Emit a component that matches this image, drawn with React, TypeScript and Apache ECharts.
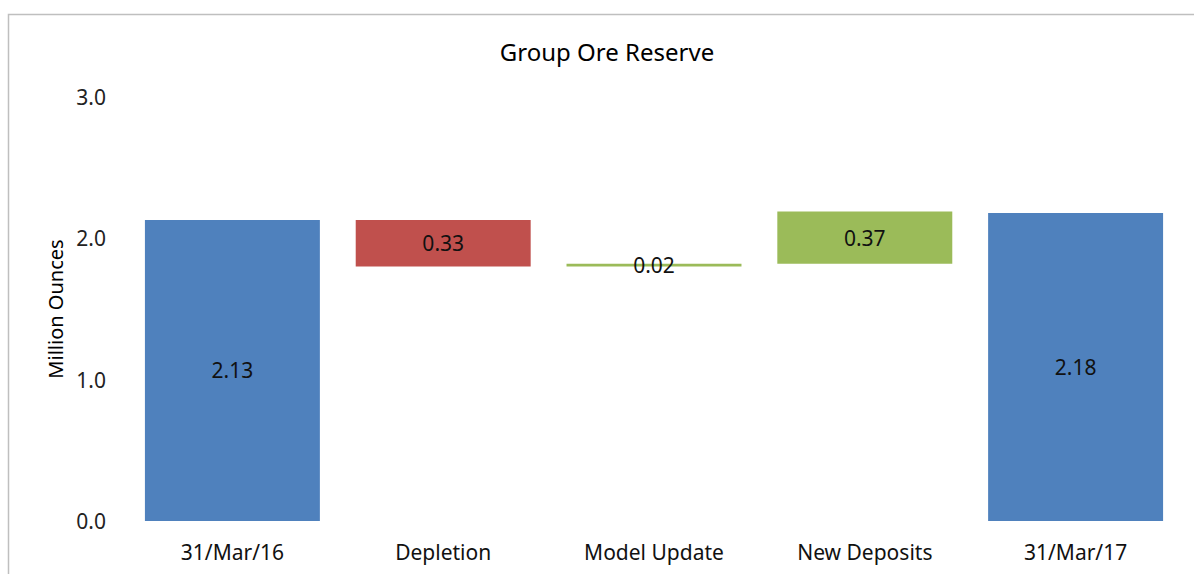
import React, { useEffect, useRef } from "react";
import * as echarts from "echarts";

const categories = ["31/Mar/16", "Depletion", "Model Update", "New Deposits", "31/Mar/17"];
const values = [2.13, -0.33, 0.02, 0.37, 2.18];
const kinds = ["total", "delta", "delta", "delta", "total"];
const yTicks = [0, 1, 2, 3];

const BLUE = "#4F81BD";
const RED = "#C0504D";
const GREEN = "#9BBB59";

export default function App() {
  const ref = useRef<HTMLDivElement>(null);
  useEffect(() => {
    if (!ref.current) return;
    const chart = echarts.init(ref.current, undefined, { renderer: "svg" });
    let running = 0;
    const base: number[] = [];
    const height: number[] = [];
    const colors: string[] = [];
    values.forEach((v, i) => {
      if (kinds[i] === "total") {
        base.push(0);
        height.push(v);
        running = v;
        colors.push(BLUE);
      } else {
        const next = running + v;
        base.push(Math.min(running, next));
        height.push(Math.abs(v));
        colors.push(v < 0 ? RED : GREEN);
        running = next;
      }
    });
    const font = "'Noto Sans', 'Open Sans', sans-serif";
    chart.setOption({
      animation: false,
      textStyle: { fontFamily: font },
      title: {
        text: "Group Ore Reserve",
        left: 602,
        top: 34,
        textAlign: "center",
        textStyle: { fontSize: 24, fontWeight: "normal", color: "#000", fontFamily: font },
      },
      graphic: [
        {
          type: "rect",
          shape: { x: 8.5, y: 14.5, width: 1400, height: 800 },
          style: { fill: "none", stroke: "#BFBFBF", lineWidth: 1.5 },
          silent: true,
        },
      ],
      grid: { left: 127, right: 13, top: 97, bottom: 53 },
      xAxis: {
        type: "category",
        data: categories,
        axisLine: { show: false },
        axisTick: { show: false },
        axisLabel: { fontSize: 21, color: "#111", margin: 20, fontFamily: font },
      },
      yAxis: {
        type: "value",
        min: yTicks[0],
        max: yTicks[yTicks.length - 1],
        interval: 1,
        splitLine: { show: false },
        axisLine: { show: false },
        axisTick: { show: false },
        axisLabel: {
          fontSize: 21,
          color: "#222",
          margin: 21,
          formatter: (v: number) => v.toFixed(1),
          fontFamily: font,
        },
        name: "Million Ounces",
        nameLocation: "middle",
        nameGap: 60,
        nameTextStyle: { fontSize: 20, color: "#000", fontFamily: font },
      },
      series: [
        {
          type: "bar",
          stack: "w",
          data: base,
          itemStyle: { color: "transparent" },
          barCategoryGap: "17%",
          silent: true,
        },
        {
          type: "bar",
          stack: "w",
          data: height.map((h, i) => ({ value: h, itemStyle: { color: colors[i] } })),
          barCategoryGap: "17%",
          label: {
            show: true,
            position: "inside",
            fontSize: 21,
            color: "#111",
            fontFamily: font,
            formatter: (p: any) => Math.abs(values[p.dataIndex]).toFixed(2),
          },
        },
      ],
    });
    return () => chart.dispose();
  }, []);
  return (
    <div
      ref={ref}
      style={{ position: "absolute", left: 0, top: 0, width: 1194, height: 574, background: "#fff" }}
    />
  );
}
